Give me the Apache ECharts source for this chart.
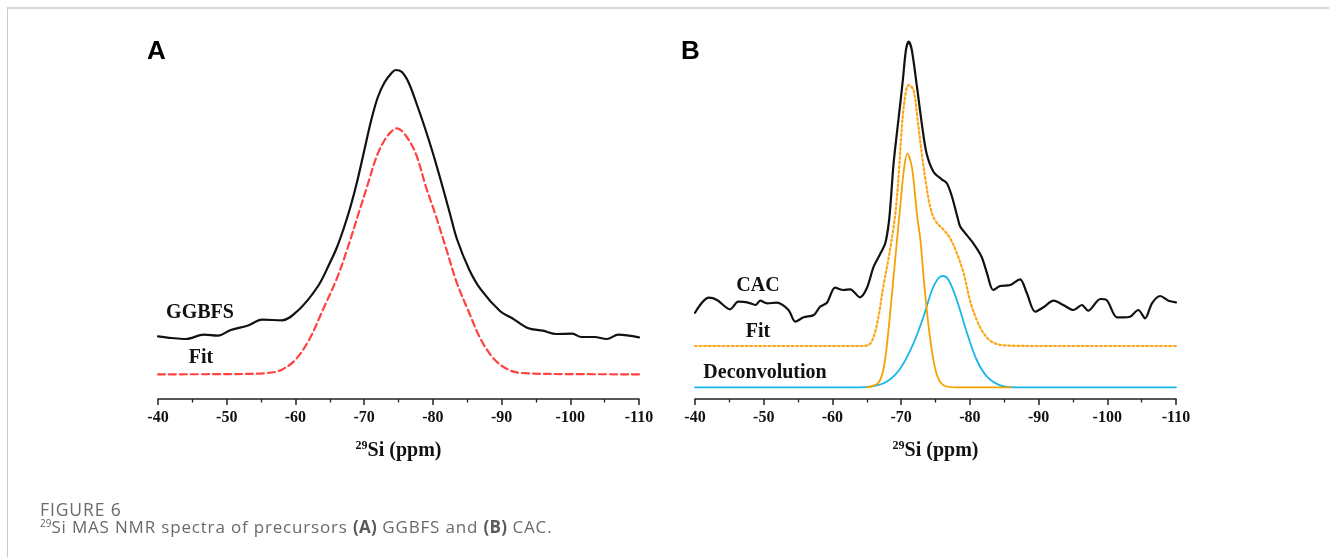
<!DOCTYPE html>
<html>
<head>
<meta charset="utf-8">
<script src="https://cdn.jsdelivr.net/npm/echarts@6/dist/echarts.min.js"></script>
<style>
  html, body { margin: 0; padding: 0; background: #fff; }
  #wrap { position: relative; width: 1329px; height: 557px; overflow: hidden; }
  #chart { position: absolute; left: 0; top: 0; width: 1329px; height: 557px; }
  #frame { position: absolute; left: 7px; top: 7px; right: -4px; bottom: -4px;
           border-top: 2px solid #d6d6d6; border-left: 1px solid #c9c9c9; pointer-events: none; }
  #caption { position: absolute; left: 40px; top: 501px; color: #6a6a6a;
             font-family: "Open Sans", "Noto Sans", sans-serif; }
  #caption .fig { font-size: 17.5px; line-height: 17px; letter-spacing: 0.9px; }
  #caption .txt { font-size: 17px; line-height: 17px; letter-spacing: 0.82px; }
  #caption sup { font-size: 10px; vertical-align: 6px; line-height: 0; letter-spacing: 0; }
  #caption b { font-weight: 700; color: #5a5a5a; letter-spacing: 0.3px; }
</style>
</head>
<body>
<div id="wrap">
  <div id="chart"></div>
  <div id="frame"></div>
  <div id="caption">
    <div class="fig">FIGURE 6</div>
    <div class="txt"><sup>29</sup>Si MAS NMR spectra of precursors <b>(A)</b> GGBFS and <b>(B)</b> CAC.</div>
  </div>
</div>
<script>
// Chemical shift axis (ppm) and intensities (arbitrary units) for each spectrum.
const ppmTicks = [-40, -50, -60, -70, -80, -90, -100, -110];

// (A) GGBFS measured spectrum
const ggbfsSpectrum = [
  [-40, 62.7], [-42, 61], [-44, 60], [-46.7, 64.3], [-48.7, 63.3], [-50.5, 68.7],
  [-53, 73.3], [-55.2, 79.3], [-58, 78.7], [-60.5, 89.3], [-63.3, 113], [-65, 136],
  [-66, 151], [-67, 170], [-68, 192], [-69, 218], [-70, 248], [-71, 278], [-72, 302],
  [-73, 317], [-74, 326], [-74.6, 329], [-75.5, 327], [-76.5, 316], [-77.8, 292],
  [-78.8, 272], [-80, 246], [-81.3, 215], [-82.5, 185], [-83.5, 160], [-85.3, 129.3],
  [-87, 109.3], [-89.8, 87.7], [-91.5, 81], [-93.8, 71], [-96, 68.3], [-98, 65],
  [-100.3, 65.3], [-101.6, 62], [-103.5, 62], [-105.3, 60], [-107, 64.3], [-110, 61.7]
];

// (A) GGBFS fitted curve
const ggbfsFit = [
  [-40, 24.7], [-50, 24.9], [-56, 26], [-58, 29.3], [-60, 39.3], [-62, 59.3], [-64, 89.3],
  [-66, 120], [-67.5, 149], [-69.3, 188], [-70.5, 214], [-72, 245.7], [-73.5, 264],
  [-74.8, 270.7], [-76, 264], [-77.5, 245.7], [-79, 212], [-80.3, 186], [-82, 149],
  [-83.5, 116], [-85.3, 86], [-87, 59.3], [-89, 39.3], [-91, 29.3], [-93, 26],
  [-100, 24.9], [-110, 24.7]
];

// (B) CAC measured spectrum
const cacSpectrum = [
  [-40, 86.3], [-42, 101.3], [-43.2, 99], [-45.1, 89.7], [-46.3, 97.3], [-47.6, 96.7],
  [-48.8, 94], [-49.5, 98.3], [-50.5, 95.7], [-51.9, 96.3], [-53.6, 89], [-54.6, 77.3],
  [-55.8, 81.7], [-57.3, 84], [-58.2, 92.3], [-59.2, 96.3], [-60.4, 111.3], [-61.6, 109],
  [-62.6, 109.7], [-64, 101.7], [-65, 110.7], [-66, 132.3], [-67, 145.7], [-67.7, 156],
  [-68.2, 176], [-68.5, 199], [-68.9, 235.7], [-69.6, 279], [-70.25, 319], [-70.7, 349],
  [-71.1, 357.3], [-71.55, 349], [-72.3, 312.3], [-73, 275.7], [-73.7, 245.7], [-74.7, 227.3],
  [-75.9, 219.7], [-76.65, 215.7], [-77.4, 202.3], [-78.3, 179], [-78.6, 172.3], [-80.5, 155.7],
  [-81.7, 142.3], [-82.5, 125.7], [-83.4, 109], [-84.4, 113], [-85.9, 114], [-87.3, 119.7],
  [-88.3, 105.7], [-89.5, 87.3], [-90.7, 91.7], [-92.2, 98.3], [-93.6, 94], [-95.1, 89],
  [-96.3, 94], [-97.2, 88.3], [-99, 100], [-99.9, 99], [-101.4, 81.7], [-102.3, 81.7],
  [-103.3, 82.3], [-104.5, 89], [-105.5, 80.7], [-106.5, 95.7], [-107.7, 103], [-108.9, 98.3],
  [-110, 96.7]
];

// (B) CAC fitted envelope
const cacFit = [
  [-40, 53], [-64, 53], [-65.25, 54], [-66, 62.3], [-66.7, 82.3], [-67.4, 112.3],
  [-68.2, 142], [-68.9, 172], [-69.3, 195], [-69.7, 230], [-70, 262], [-70.45, 296],
  [-71.1, 314], [-71.8, 309], [-72.4, 279], [-73, 245.7], [-73.7, 212], [-74.3, 190],
  [-75, 178], [-76.2, 169], [-77.1, 161], [-78.1, 146], [-79.1, 125.7], [-80, 99],
  [-81, 79], [-82, 65.7], [-83.2, 57.3], [-84.9, 53.7], [-90, 53], [-110, 53]
];

// (B) deconvoluted components
const cacComponent1 = [
  [-65, 11.7], [-65.5, 12.3], [-66.7, 16.3], [-67.4, 29], [-67.9, 52.3], [-68.4, 85.7],
  [-68.9, 122.3], [-69.4, 159], [-69.9, 195], [-70.4, 229], [-70.9, 245.7], [-71.55, 232.3],
  [-72, 205.7], [-72.35, 182], [-72.8, 159], [-73.35, 115.7], [-74, 72.3], [-74.7, 39],
  [-75.4, 20.7], [-76.4, 13], [-77.9, 11.7], [-86, 11.7]
];
const cacComponent2 = [
  [-40, 11.7], [-64, 11.7], [-65.5, 12.3], [-67.9, 17.3], [-69.9, 30.7], [-71.8, 55.7],
  [-73.25, 82.3], [-74.5, 109], [-75.4, 120.7], [-76.1, 123], [-76.9, 119], [-78.1, 99],
  [-79.6, 65.7], [-81, 39], [-82.5, 22.3], [-84.4, 13.7], [-86.9, 11.7], [-110, 11.7]
];

const serif = '"Liberation Serif", "Times New Roman", serif';
const sans = '"Liberation Sans", Arial, sans-serif';

function xAxisFor(gridIndex) {
  return {
    gridIndex, type: 'value', inverse: true, min: -110, max: -40, interval: 10,
    name: '{sup|29}{main|Si (ppm)}', nameLocation: 'middle', nameGap: 41,
    nameTextStyle: {
      rich: {
        sup: { fontFamily: serif, fontWeight: 'bold', fontSize: 12, color: '#111', verticalAlign: 'top', lineHeight: 12 },
        main: { fontFamily: serif, fontWeight: 'bold', fontSize: 20, color: '#111', lineHeight: 22 }
      }
    },
    axisLine: { show: true, onZero: false, lineStyle: { color: '#222', width: 1.5 } },
    axisTick: { show: true, inside: false, length: 6, lineStyle: { color: '#222', width: 1.5 } },
    minorTick: { show: true, splitNumber: 2, length: 3.5, lineStyle: { color: '#222', width: 1.3 } },
    splitLine: { show: false },
    axisLabel: {
      margin: 11, fontFamily: serif, fontWeight: 'bold', fontSize: 16, color: '#111',
      formatter: v => (ppmTicks.indexOf(v) >= 0 ? String(v) : '')
    }
  };
}
function yAxisFor(gridIndex) {
  return { gridIndex, type: 'value', min: 0, max: 360, show: false, splitLine: { show: false } };
}
function line(data, idx, color, width, type, smooth) {
  return {
    type: 'line', xAxisIndex: idx, yAxisIndex: idx, data, showSymbol: false, symbol: 'none',
    smooth, silent: true, lineStyle: { color, width, type, cap: 'round', join: 'round' }
  };
}
function label(text, x, y) {
  return {
    type: 'text', x, y,
    style: { text, fontFamily: serif, fontWeight: 'bold', fontSize: 20,
             fill: '#111', textAlign: 'center', textVerticalAlign: 'middle' }
  };
}
function panelLetter(text, x) {
  return {
    type: 'text', x, y: 52,
    style: { text, fontFamily: sans, fontWeight: 'bold', fontSize: 26, fill: '#000',
             textAlign: 'left', textVerticalAlign: 'middle' }
  };
}

const chart = echarts.init(document.getElementById('chart'), null, { renderer: 'canvas' });
chart.setOption({
  animation: false,
  backgroundColor: '#fff',
  grid: [
    { left: 158, width: 481, top: 39, height: 360 },
    { left: 695, width: 481, top: 39, height: 360 }
  ],
  xAxis: [xAxisFor(0), xAxisFor(1)],
  yAxis: [yAxisFor(0), yAxisFor(1)],
  series: [
    line(ggbfsFit, 0, '#ff4242', 2.2, [7, 4], 0.35),
    line(ggbfsSpectrum, 0, '#111', 2.2, 'solid', 0.35),
    line(cacComponent2, 1, '#19b6ec', 1.8, 'solid', 0.35),
    line(cacComponent1, 1, '#f6a200', 1.8, 'solid', 0.35),
    line(cacFit, 1, '#fba71a', 2.2, [2, 2.6], 0.35),
    line(cacSpectrum, 1, '#111', 2.2, 'solid', 0.3)
  ],
  graphic: [
    panelLetter('A', 147),
    panelLetter('B', 681),
    label('GGBFS', 200, 313),
    label('Fit', 201, 358),
    label('CAC', 758, 286),
    label('Fit', 758, 332),
    label('Deconvolution', 765, 373)
  ]
});
</script>
</body>
</html>
